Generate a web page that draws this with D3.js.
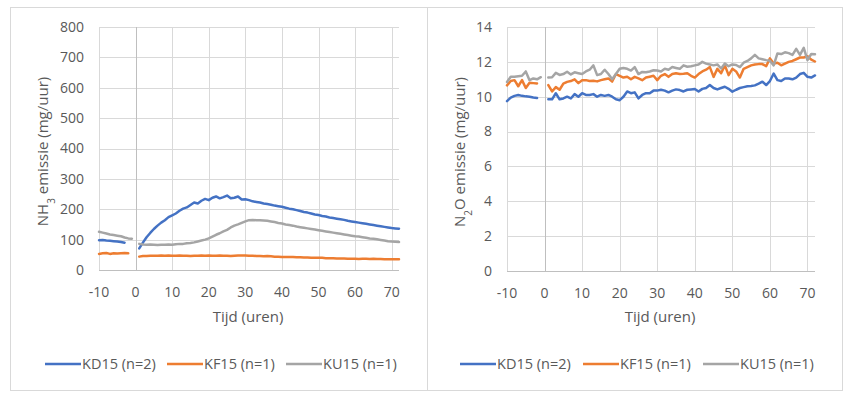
<!DOCTYPE html>
<html>
<head>
<meta charset="utf-8">
<script src="https://cdn.jsdelivr.net/npm/d3@7"></script>
<style>
  html, body { margin: 0; padding: 0; background: #fff; }
  svg { display: block; }
  text { font-family: "Open Sans", "Noto Sans", sans-serif; fill: #595959; }
</style>
</head>
<body>
<svg id="chart" width="860" height="397"></svg>
<script>
// ---------- Data ----------
const seriesNames = ["KD15 (n=2)", "KF15 (n=1)", "KU15 (n=1)"];
const seriesColors = ["#4472C4", "#ED7D31", "#A5A5A5"];
const xTicks = [-10, 0, 10, 20, 30, 40, 50, 60, 70];
const nh3Ticks = [0, 100, 200, 300, 400, 500, 600, 700, 800];
const n2oTicks = [0, 2, 4, 6, 8, 10, 12, 14];

// pre-period segments start at hour -10; post-period segments start at hour 1
const preStart = -10;
const postStart = 1;

// NH3 (mg/uur)
const nh3_KD15_pre = [98, 99, 97, 96, 95, 94, 92, 90];
const nh3_KF15_pre = [53, 55, 56, 53, 55, 54, 55, 56, 55];
const nh3_KU15_pre = [126, 123, 120, 117, 115, 113, 111, 107, 104, 103];
const nh3_KD15_post = [71, 90, 108, 122, 135, 146, 156, 164, 174, 180,
  186, 195, 202, 206, 214, 222, 219, 228, 234, 230,
  238, 242, 236, 240, 245, 236, 238, 242, 232, 233,
  230, 226, 224, 222, 219, 217, 215, 212, 210, 208,
  205, 202, 200, 197, 194, 191, 189, 186, 183, 181,
  178, 176, 173, 171, 169, 167, 165, 162, 160, 158,
  156, 154, 152, 150, 148, 146, 144, 142, 140, 138, 137, 136];
const nh3_KF15_post = [44, 46, 46, 47, 47, 47, 48, 47, 48, 47,
  47, 48, 47, 47, 46, 47, 47, 48, 47, 48,
  47, 47, 48, 47, 47, 46, 47, 48, 48, 48,
  47, 47, 46, 46, 45, 46, 45, 44, 44, 43,
  43, 43, 43, 42, 42, 41, 41, 40, 40, 40,
  40, 39, 39, 39, 38, 38, 38, 37, 37, 37,
  36, 37, 37, 36, 37, 36, 36, 35, 35, 35, 35, 35];
const nh3_KU15_post = [86, 84, 83, 84, 83, 82, 83, 83, 84, 83,
  85, 86, 86, 88, 89, 91, 94, 97, 100, 104,
  110, 116, 121, 127, 132, 140, 146, 150, 155, 160,
  164, 165, 164, 164, 163, 162, 160, 158, 155, 153,
  150, 148, 146, 143, 141, 139, 137, 135, 133, 131,
  129, 127, 125, 123, 121, 119, 117, 115, 113, 111,
  110, 108, 106, 104, 103, 101, 99, 97, 95, 94, 93, 92];

// N2O (mg/uur)
const n2o_KD15_pre = [9.75, 9.95, 10.05, 10.1, 10.05, 10.02, 10.0, 9.95, 9.92];
const n2o_KF15_pre = [10.65, 10.9, 10.95, 10.6, 10.95, 10.5, 10.8, 10.78, 10.76];
const n2o_KU15_pre = [10.85, 11.15, 11.15, 11.18, 11.2, 11.45, 10.95, 11.05, 11.0, 11.12];
const n2o_KD15_post = [9.85, 9.85, 10.2, 9.85, 9.9, 10.0, 9.9, 10.15, 10.0, 10.2,
  10.1, 10.1, 10.15, 10.0, 10.1, 10.05, 10.1, 10.0, 9.85, 9.8,
  10.0, 10.3, 10.2, 10.25, 9.9, 10.1, 10.2, 10.2, 10.35, 10.35,
  10.4, 10.35, 10.25, 10.35, 10.42, 10.38, 10.3, 10.4, 10.42, 10.44,
  10.3, 10.45, 10.5, 10.67, 10.5, 10.42, 10.5, 10.57, 10.45, 10.29,
  10.4, 10.5, 10.55, 10.6, 10.62, 10.65, 10.75, 10.86, 10.67, 10.9,
  11.33, 10.95, 10.9, 11.05, 11.05, 11.0, 11.1, 11.3, 11.37, 11.14, 11.1, 11.22];
const n2o_KF15_post = [10.67, 10.3, 10.55, 10.4, 10.75, 10.85, 10.9, 11.0, 10.78, 10.95,
  10.95, 10.9, 10.92, 10.88, 10.95, 11.0, 11.05, 10.87, 11.3, 11.2,
  11.1, 11.15, 11.0, 11.14, 11.05, 10.95, 11.1, 11.15, 11.2, 10.95,
  11.2, 11.3, 11.14, 11.3, 11.35, 11.3, 11.32, 11.35, 11.2, 11.1,
  11.3, 11.45, 11.55, 11.7, 11.14, 11.6, 11.35, 11.8, 11.24, 11.6,
  11.45, 11.1, 11.6, 11.7, 11.8, 11.85, 11.87, 11.87, 11.75, 12.2,
  11.9, 11.95, 11.8, 11.9, 12.0, 12.05, 12.15, 12.25, 12.25, 12.32, 12.13, 12.02];
const n2o_KU15_post = [11.1, 11.12, 11.37, 11.25, 11.3, 11.43, 11.28, 11.4, 11.35, 11.3,
  11.45, 11.55, 11.8, 11.24, 11.3, 11.55, 11.3, 11.0, 11.3, 11.6,
  11.65, 11.6, 11.5, 11.7, 11.3, 11.42, 11.4, 11.45, 11.52, 11.5,
  11.45, 11.6, 11.55, 11.7, 11.65, 11.6, 11.8, 11.72, 11.75, 11.8,
  11.85, 12.0, 11.9, 11.85, 11.8, 11.85, 11.62, 11.9, 11.75, 11.85,
  11.82, 11.7, 11.95, 12.05, 12.2, 12.4, 12.2, 12.15, 12.1, 12.06,
  11.8, 12.48, 12.45, 12.55, 12.5, 12.4, 12.75, 12.4, 12.8, 12.1, 12.45, 12.44];

// ---------- Drawing ----------
const svg = d3.select("#chart");

function panel(cfg) {
  const g = svg.append("g");
  // outer frame
  g.append("rect")
    .attr("x", cfg.frame[0] + 0.5).attr("y", cfg.frame[1] + 0.5)
    .attr("width", cfg.frame[2] - cfg.frame[0]).attr("height", cfg.frame[3] - cfg.frame[1])
    .attr("fill", "#fff").attr("stroke", "#d9d9d9").attr("stroke-width", 1);

  const x = d3.scaleLinear().domain([-10, 72]).range([cfg.plot[0], cfg.plot[2]]);
  const y = d3.scaleLinear().domain([0, cfg.yMax]).range([cfg.plot[3], cfg.plot[1]]);

  // horizontal gridlines
  g.append("g").selectAll("line").data(cfg.yTicks.filter(v => v > 0)).join("line")
    .attr("x1", cfg.plot[0]).attr("x2", cfg.plot[2])
    .attr("y1", d => Math.round(y(d)) + 0.5).attr("y2", d => Math.round(y(d)) + 0.5)
    .attr("stroke", "#d9d9d9").attr("stroke-width", 1);
  // vertical gridlines
  g.append("g").selectAll("line").data(xTicks.filter(v => v !== 0)).join("line")
    .attr("x1", d => Math.round(x(d)) + 0.5).attr("x2", d => Math.round(x(d)) + 0.5)
    .attr("y1", cfg.plot[1]).attr("y2", cfg.plot[3])
    .attr("stroke", "#d9d9d9").attr("stroke-width", 1);
  // vertical axis line at x=0
  g.append("line")
    .attr("x1", Math.round(x(0)) + 0.5).attr("x2", Math.round(x(0)) + 0.5)
    .attr("y1", cfg.plot[1]).attr("y2", cfg.plot[3])
    .attr("stroke", "#bfbfbf").attr("stroke-width", 1);
  // horizontal axis line
  g.append("line")
    .attr("x1", cfg.plot[0]).attr("x2", cfg.plot[2])
    .attr("y1", Math.round(y(0)) + 0.5).attr("y2", Math.round(y(0)) + 0.5)
    .attr("stroke", "#bfbfbf").attr("stroke-width", 1);

  // y tick labels
  g.append("g").selectAll("text").data(cfg.yTicks).join("text")
    .attr("x", cfg.yLabelX).attr("y", d => y(d))
    .attr("dy", "0.35em").attr("text-anchor", "end")
    .style("font-size", "14px").text(d => d);
  // x tick labels
  g.append("g").selectAll("text").data(xTicks).join("text")
    .attr("x", d => x(d)).attr("y", cfg.plot[3] + 22)
    .attr("dy", "0.35em").attr("text-anchor", "middle")
    .style("font-size", "14px").text(d => d);

  // x title
  g.append("text").attr("x", cfg.xTitleX).attr("y", 317).attr("dy", "0.35em")
    .attr("text-anchor", "middle").style("font-size", "15px").text("Tijd (uren)");
  // y title
  const yc = (cfg.plot[1] + cfg.plot[3]) / 2 + 3;
  const yt = g.append("text")
    .attr("transform", `translate(${cfg.yTitleX},${yc}) rotate(-90)`)
    .attr("text-anchor", "middle").attr("dy", "0.35em").style("font-size", "15px");
  yt.append("tspan").text(cfg.yTitle[0]);
  yt.append("tspan").attr("baseline-shift", "sub").style("font-size", "10px").text(cfg.yTitle[1]);
  yt.append("tspan").text(cfg.yTitle[2]);

  // lines
  const line = d3.line().x(d => x(d.h)).y(d => y(d.v));
  cfg.series.forEach((s, i) => {
    [[s.pre, preStart], [s.post, postStart]].forEach(([vals, start]) => {
      const pts = vals.map((v, k) => ({h: start + k, v}));
      g.append("path").datum(pts).attr("d", line)
        .attr("fill", "none").attr("stroke", seriesColors[i])
        .attr("stroke-width", 2.5).attr("stroke-linejoin", "round").attr("stroke-linecap", "round");
    });
  });

  // legend
  const lg = g.append("g");
  cfg.legendX.forEach((lx, i) => {
    lg.append("line").attr("x1", lx).attr("x2", lx + 36)
      .attr("y1", 364).attr("y2", 364)
      .attr("stroke", seriesColors[i]).attr("stroke-width", 2.5);
    lg.append("text").attr("x", lx + 37).attr("y", 364).attr("dy", "0.35em")
      .style("font-size", "14.5px").text(seriesNames[i]);
  });
}

panel({
  frame: [10, 7, 427, 390],
  plot: [99, 27, 399, 270],
  yMax: 800, yTicks: nh3Ticks,
  yLabelX: 84, yTitleX: 43, xTitleX: 248,
  yTitle: ["NH", "3", " emissie (mg/uur)"],
  legendX: [45, 167, 286],
  series: [
    {pre: nh3_KD15_pre, post: nh3_KD15_post},
    {pre: nh3_KF15_pre, post: nh3_KF15_post},
    {pre: nh3_KU15_pre, post: nh3_KU15_post}
  ]
});

panel({
  frame: [427, 7, 842, 390],
  plot: [507, 27, 815, 271],
  yMax: 14, yTicks: n2oTicks,
  yLabelX: 492, yTitleX: 460, xTitleX: 660,
  yTitle: ["N", "2", "O emissie (mg/uur)"],
  legendX: [460, 583, 703],
  series: [
    {pre: n2o_KD15_pre, post: n2o_KD15_post},
    {pre: n2o_KF15_pre, post: n2o_KF15_post},
    {pre: n2o_KU15_pre, post: n2o_KU15_post}
  ]
});
</script>
</body>
</html>
